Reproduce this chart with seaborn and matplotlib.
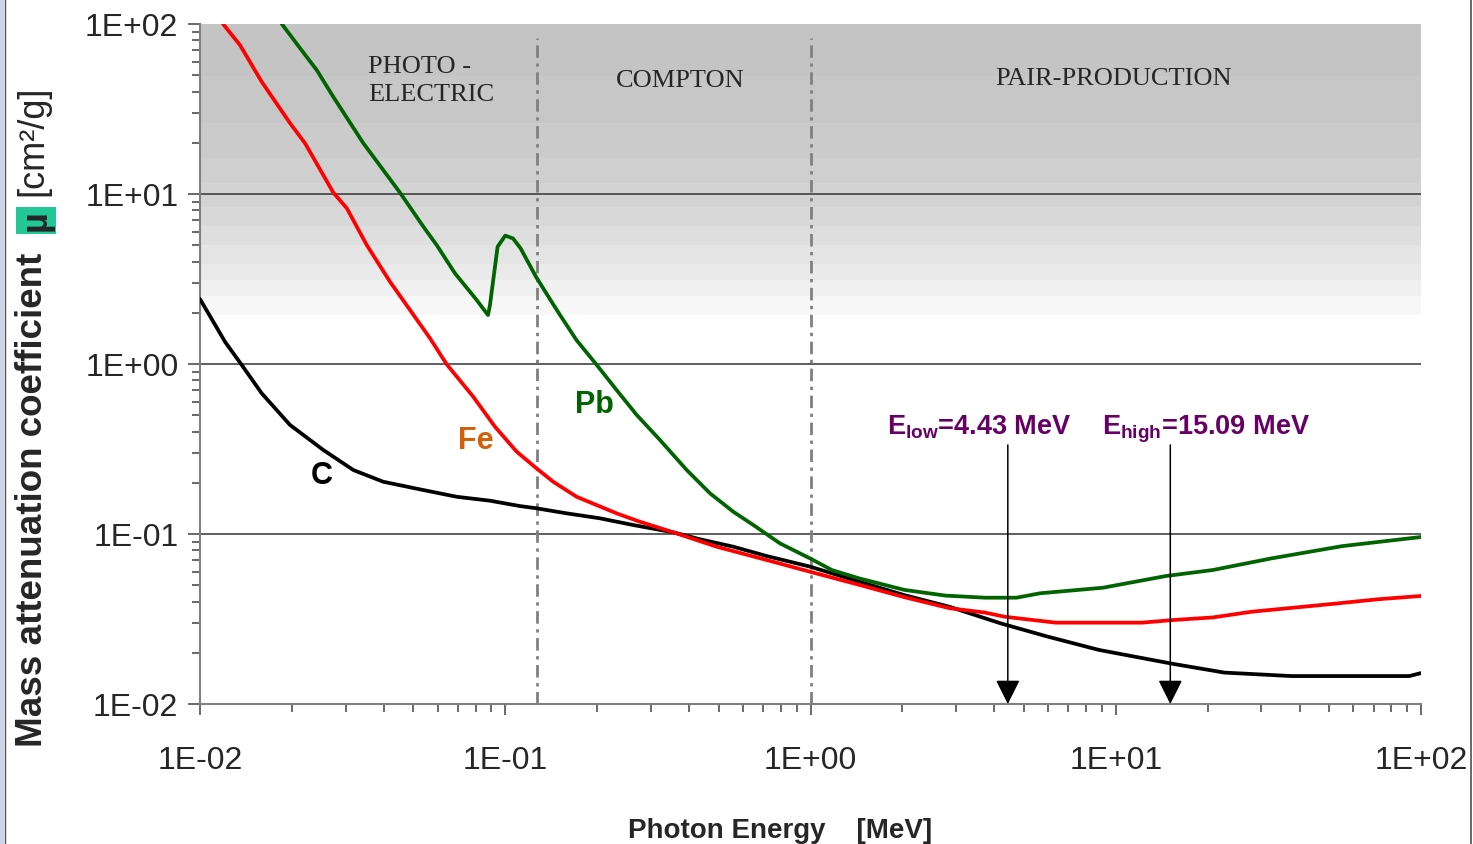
import numpy as np
import pandas as pd
import matplotlib
matplotlib.use("Agg")
import matplotlib.pyplot as plt
from matplotlib.ticker import LogLocator, FuncFormatter, NullFormatter
from matplotlib.lines import Line2D
from matplotlib.patches import Rectangle
import seaborn as sns

# ---- attenuation data (photon energy in MeV, mass attenuation coefficient in cm^2/g) ----
c_energy = [0.0100, 0.01208, 0.01370, 0.01592, 0.01972, 0.02535, 0.03178, 0.0398, 0.0526, 0.0693,
            0.0891, 0.1117, 0.1267, 0.1589, 0.2042, 0.2628, 0.3553, 0.4347, 0.5585, 0.7186,
            0.996, 1.445, 2.03, 2.856, 4.20, 5.99, 8.81, 11.16, 15.46, 22.7, 37.6, 91.5, 100]
c_mu = [2.41, 1.35, 0.987, 0.673, 0.438, 0.312, 0.238, 0.203, 0.183, 0.1656,
        0.157, 0.146, 0.1416, 0.1323, 0.1237, 0.1129, 0.1023, 0.0931, 0.0842, 0.0742,
        0.0643, 0.0524, 0.0437, 0.0373, 0.0298, 0.0249, 0.0208, 0.0192, 0.0172, 0.0153, 0.0146, 0.0146, 0.0152]

fe_energy = [0.0119, 0.01352, 0.01592, 0.01972, 0.02208, 0.02733, 0.03027, 0.03518, 0.04191, 0.04874,
             0.0567, 0.0643, 0.0785, 0.0925, 0.1090, 0.1267, 0.1436, 0.1713, 0.2316, 0.2761,
             0.3553, 0.4925, 0.7186, 0.996, 1.452, 2.03, 2.856, 3.73, 4.33, 6.36,
             12.2, 15.46, 20.8, 27.9, 50.6, 72.1, 100]
fe_mu = [100, 75.2, 45.8, 26.1, 19.9, 10.2, 8.24, 5.01, 3.05, 2.08,
         1.416, 0.996, 0.643, 0.428, 0.305, 0.243, 0.203, 0.1656, 0.1323, 0.1181,
         0.1023, 0.0842, 0.0703, 0.0600, 0.0501, 0.0425, 0.0366, 0.0345, 0.0326, 0.0301,
         0.0301, 0.0312, 0.0323, 0.0349, 0.0387, 0.0413, 0.0432]

pb_energy = [0.01854, 0.02129, 0.02412, 0.02733, 0.03428, 0.04518, 0.0539, 0.0596, 0.0684, 0.0806,
             0.0878, 0.0891, 0.0944, 0.1000, 0.1060, 0.1122, 0.1261, 0.1417, 0.1512, 0.1713,
             0.1994, 0.2316, 0.2697, 0.3214, 0.3930, 0.4688, 0.5585, 0.650, 0.794, 0.996,
             1.174, 1.445, 2.03, 2.773, 3.73, 4.73, 5.65, 9.07, 14.6, 20.8, 32.4, 55.3, 100]
pb_mu = [100, 71.9, 53.6, 37.3, 19.9, 10.2, 6.43, 5.01, 3.42, 2.38,
         1.94, 2.22, 4.90, 5.69, 5.48, 4.80, 3.26, 2.33, 1.94, 1.38,
         0.987, 0.703, 0.501, 0.357, 0.238, 0.1734, 0.1352, 0.1129, 0.0881, 0.0719,
         0.0614, 0.0548, 0.0469, 0.0434, 0.0422, 0.0422, 0.0448, 0.0483, 0.0566, 0.0614,
         0.0719, 0.0849, 0.0960]

materials = ["C", "Fe", "Pb"]
region_names = ["PHOTO -\nELECTRIC", "COMPTON", "PAIR-PRODUCTION"]
region_bounds = [0.127, 1.0]          # MeV, dash-dot separators
gamma_labels = ["E$_{\\mathbf{low}}$=4.43 MeV", "E$_{\\mathbf{high}}$=15.09 MeV"]
gamma_energies = [4.43, 15.09]        # MeV

df = pd.concat([
    pd.DataFrame({"E": c_energy, "mu": c_mu, "material": "C"}),
    pd.DataFrame({"E": fe_energy, "mu": fe_mu, "material": "Fe"}),
    pd.DataFrame({"E": pb_energy, "mu": pb_mu, "material": "Pb"}),
], ignore_index=True)

# ---- style ----
sns.set_theme(style="white")
plt.rcParams["font.family"] = ["Liberation Sans", "DejaVu Sans"]
plt.rcParams["mathtext.fontset"] = "custom"
plt.rcParams["mathtext.rm"] = "Liberation Sans"
plt.rcParams["mathtext.bf"] = "Liberation Sans:bold"

W, H = 1473, 844
fig = plt.figure(figsize=(W / 100, H / 100), dpi=100)
ax = fig.add_axes([200 / W, 1 - 704 / H, 1221 / W, 680 / H])

line_colors = {"C": "#000000", "Fe": "#ff0000", "Pb": "#006400"}
label_colors = {"C": "#000000", "Fe": "#d2600a", "Pb": "#006400"}

# stepped grey shading behind the photo-electric dominated range
shade_levels = [100, 49.4, 26.2, 16.3, 11.6, 8.4, 6.5, 5.0, 3.87, 3.1, 2.5, 1.94]
shade_greys = [196, 199, 203, 207, 211, 216, 222, 228, 234, 240, 247]
for top, bot, g in zip(shade_levels[:-1], shade_levels[1:], shade_greys):
    ax.axhspan(bot, top, xmin=0, xmax=1, color=(g / 255,) * 3, lw=0, zorder=0)

for yv in [10, 1, 0.1]:
    ax.axhline(yv, color="#333333", lw=1.1, zorder=1)

for xv in region_bounds:
    ax.axvline(xv, ymin=0, ymax=0.98, color="#808080", lw=2.0,
               linestyle=(0, (4.5, 2.0, 1.2, 2.0)), zorder=1)

sns.lineplot(data=df, x="E", y="mu", hue="material", palette=line_colors,
             estimator=None, sort=False, linewidth=2.7, legend=False, ax=ax, zorder=3)

ax.set_xscale("log")
ax.set_yscale("log")
ax.set_xlim(0.01, 100)
ax.set_ylim(0.01, 100)

fmt = FuncFormatter(lambda v, p: f"{v:.0E}")
for axis in (ax.xaxis, ax.yaxis):
    axis.set_major_locator(LogLocator(base=10, numticks=10))
    axis.set_minor_locator(LogLocator(base=10, subs=np.arange(2, 10), numticks=100))
    axis.set_major_formatter(fmt)
    axis.set_minor_formatter(NullFormatter())

ax.tick_params(axis="y", which="major", direction="out", length=8.5, width=1.1,
               color="#404040", labelsize=23, pad=7, left=True)
ax.tick_params(axis="y", which="minor", direction="out", length=5.8, width=1.1,
               color="#404040", left=True)
ax.tick_params(axis="x", which="major", direction="out", length=8, width=1.1,
               color="#404040", labelsize=23, pad=22, bottom=True)
ax.tick_params(axis="x", which="minor", direction="out", length=5.8, width=1.1,
               color="#404040", bottom=True)

for s in ("top", "right"):
    ax.spines[s].set_visible(False)
for s in ("left", "bottom"):
    ax.spines[s].set_color("#808080")
    ax.spines[s].set_linewidth(1.5)
ax.set_xlabel("")
ax.set_ylabel("")
ax.set_facecolor("white")

# region names
serif = ["Liberation Serif", "DejaVu Serif"]
ax.text(0.03551, 46.2, region_names[0], family=serif, fontsize=19, ha="left",
        va="center", linespacing=1.4, zorder=4)
ax.text(0.3737, 46.2, region_names[1], family=serif, fontsize=19, ha="center",
        va="center", zorder=4)
ax.text(9.80, 47.4, region_names[2], family=serif, fontsize=19, ha="center",
        va="center", zorder=4)

# curve labels
label_pos = {"Pb": (0.1953, 0.574), "Fe": (0.0802, 0.352), "C": (0.02511, 0.219)}
for m in materials:
    x, y = label_pos[m]
    ax.text(x, y, m, color=label_colors[m], fontsize=22, fontweight="bold",
            ha="center", va="center", zorder=4)

# gamma line markers
text_x = [3.56, 19.76]
for lab, e, tx in zip(gamma_labels, gamma_energies, text_x):
    ax.annotate("", xy=(e, 0.01), xytext=(e, 0.334),
                arrowprops=dict(arrowstyle="-|>,head_length=0.6,head_width=0.3",
                                mutation_scale=25, color="black", lw=1.1,
                                shrinkA=0, shrinkB=0),
                zorder=5, annotation_clip=False)
    ax.text(tx, 0.387, lab, color="#660066", fontsize=19.5, fontweight="bold",
            ha="center", va="baseline", zorder=5)

# axis titles
fig.text(780 / W, 1 - 838 / H, "Photon Energy    [MeV]", fontsize=20, fontweight="bold",
         ha="center", va="baseline")

fig.canvas.draw()
r = fig.canvas.get_renderer()
ylab_x = 33 / W
t1 = fig.text(ylab_x, 1 - 747 / H, "Mass attenuation coefficient", rotation=90,
              fontsize=26.5, fontweight="bold", ha="center", va="bottom")
bb = t1.get_window_extent(r)
t2 = fig.text(ylab_x + 3 / W, (bb.y1 + 22) / H, "\u00b5", rotation=90, fontsize=26,
              fontweight="bold", ha="center", va="bottom",
              bbox=dict(boxstyle="square,pad=0.08", fc="#22c997", ec="none"))
bb2 = t2.get_window_extent(r)
fig.text(ylab_x, (bb2.y1 + 14) / H, "[cm\u00b2/g]", rotation=90, fontsize=26,
         ha="center", va="bottom")

# page frame
fig.patches.append(Rectangle((0, 0), 4 / W, 1, transform=fig.transFigure,
                             fc="#cbd5ea", ec="none", zorder=0))
fig.lines.append(Line2D([4.5 / W, 4.5 / W], [0, 1], transform=fig.transFigure,
                        color="#505050", lw=1))
fig.lines.append(Line2D([1470.5 / W, 1470.5 / W], [0, 1], transform=fig.transFigure,
                        color="#505050", lw=1.2))

fig.savefig("out.png", dpi=100, facecolor="white")
